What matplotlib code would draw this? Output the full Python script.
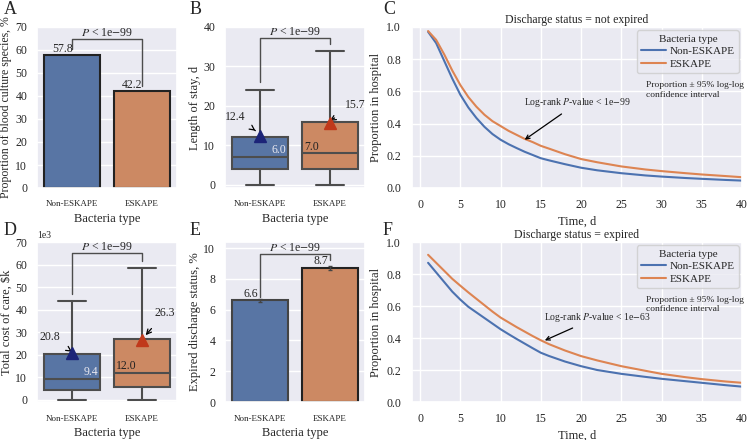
import matplotlib
matplotlib.use("Agg")
import matplotlib.pyplot as plt
import seaborn as sns
import numpy as np

sns.set_theme(style="darkgrid")
plt.rcParams['font.family'] = ['Liberation Serif', 'DejaVu Serif']
plt.rcParams['mathtext.fontset'] = 'stix'

categories = ["Non-ESKAPE", "ESKAPE"]
bar_colors = ["#5875a4", "#cc8963"]
line_colors = ["#4c72b0", "#dd8452"]
mean_colors = ["#1c2478", "#c0391b"]

# Panel A
blood_pct = [57.8, 42.2]
# Panel B (length of stay)
los_stats = [dict(whislo=0, q1=4, med=7, q3=12, whishi=24),
             dict(whislo=0, q1=4, med=8, q3=16, whishi=34)]
los_mean = [12.4, 15.7]
los_med_label = ["6.0", "7.0"]
# Panel D (cost, x1e3)
cost_stats = [dict(whislo=0, q1=4.3, med=9.4, q3=20.3, whishi=44),
              dict(whislo=0, q1=5.6, med=12.0, q3=27.0, whishi=58.5)]
cost_mean = [20.8, 26.3]
cost_med_label = ["9.4", "12.0"]
# Panel E
expired_pct = [6.6, 8.7]
expired_err = [0.1, 0.12]

# Survival curves
t_days = [1, 2, 3, 4, 5, 6, 7, 8, 9, 10, 11, 12, 13, 14, 15, 16, 18, 20, 22, 25, 28, 30, 33, 35, 38, 40]
c_non = [0.97, 0.90, 0.79, 0.68, 0.58, 0.50, 0.435, 0.38, 0.335, 0.30, 0.272, 0.248, 0.225, 0.205, 0.185,
         0.172, 0.148, 0.126, 0.11, 0.092, 0.078, 0.071, 0.062, 0.057, 0.050, 0.046]
c_esk = [0.975, 0.92, 0.83, 0.73, 0.64, 0.565, 0.505, 0.455, 0.415, 0.385, 0.355, 0.33, 0.305, 0.285, 0.262,
         0.245, 0.21, 0.18, 0.16, 0.134, 0.115, 0.105, 0.092, 0.084, 0.074, 0.067]
f_non = [0.87, 0.81, 0.75, 0.69, 0.64, 0.595, 0.56, 0.525, 0.49, 0.455, 0.424, 0.394, 0.365, 0.336, 0.308,
         0.288, 0.253, 0.224, 0.20, 0.176, 0.157, 0.145, 0.13, 0.12, 0.105, 0.096]
f_esk = [0.92, 0.87, 0.82, 0.77, 0.727, 0.685, 0.645, 0.605, 0.565, 0.528, 0.498, 0.468, 0.44, 0.412, 0.386,
         0.362, 0.322, 0.287, 0.26, 0.224, 0.195, 0.176, 0.155, 0.143, 0.128, 0.12]

W, H = 747, 440
fig = plt.figure(figsize=(W / 100, H / 100), dpi=100)


def ax_px(l, t, r, b):
    return fig.add_axes([l / W, 1 - b / H, (r - l) / W, (b - t) / H])


axA = ax_px(37, 27, 177, 188)
axB = ax_px(225, 27, 365, 188)
axC = ax_px(412, 27, 742, 188)
axD = ax_px(37, 242, 177, 402)
axE = ax_px(225, 242, 365, 402)
axF = ax_px(412, 242, 742, 402)

tick_fs = 8.5
lab_fs = 9


def style_cat(ax):
    ax.set_xticks([0, 1])
    ax.set_xticklabels(categories, fontsize=6.5)
    ax.tick_params(axis='y', labelsize=tick_fs, pad=1)
    ax.tick_params(axis='x', pad=3)
    ax.grid(axis='x', visible=False)
    ax.set_xlabel("Bacteria type", fontsize=lab_fs, labelpad=3)
    ax.set_xlim(-0.5, 1.5)


def bracket(ax, y_left, y_top, y_right, text):
    ax.plot([0, 0, 1, 1], [y_left, y_top, y_top, y_right], color="#4d4d4d", lw=1)
    ax.text(0.5, y_top, text, ha='center', va='bottom', fontsize=8.5)


ptxt = r"$P$ < 1e$-$99"

# A
axA.bar([0, 1], blood_pct, width=0.8, color=bar_colors, edgecolor="#222222", linewidth=1.5)
axA.set_ylim(0, 70)
axA.set_yticks(range(0, 71, 10))
style_cat(axA)
axA.set_ylabel("Proportion of blood culture species, %", fontsize=8.5, labelpad=2)
for i, v in enumerate(blood_pct):
    axA.text(i - 0.14, v, f"{v}", ha='center', va='bottom', fontsize=8.5)
bracket(axA, 60.5, 64.7, 44.5, ptxt)


def boxpanel(ax, stats, means, med_labels, label_pos, ann_pos):
    for i, s in enumerate(stats):
        st = dict(s)
        st['label'] = categories[i]
        ax.bxp([st], positions=[i], widths=0.8, showfliers=False, patch_artist=True,
               boxprops=dict(facecolor=bar_colors[i], edgecolor="#4d4d4d", linewidth=1.5),
               medianprops=dict(color="#4d4d4d", linewidth=1.5),
               whiskerprops=dict(color="#4d4d4d", linewidth=1.5),
               capprops=dict(color="#4d4d4d", linewidth=1.5), capwidths=0.4)
        ax.plot(i, means[i], marker='^', color=mean_colors[i], markersize=9, zorder=5, linestyle='none')
        ax.annotate(f"{means[i]}", xy=(i, means[i] + 0.5), xytext=ann_pos[i],
                    ha='center', va='center', fontsize=8.5,
                    arrowprops=dict(arrowstyle='->', color='black', lw=0.9,
                                    shrinkA=6, shrinkB=4))
    ax.text(label_pos[0][0], label_pos[0][1], med_labels[0], ha='right', va='bottom',
            fontsize=8.5, color='#e8e8f0')
    ax.text(label_pos[1][0], label_pos[1][1], med_labels[1], ha='left', va='bottom',
            fontsize=8.5, color='#222222')


# B
boxpanel(axB, los_stats, los_mean, los_med_label,
         [(0.38, 7.2), (0.63, 8.1)], [(-0.35, 17.3), (1.36, 20.3)])
axB.set_ylim(-0.8, 40)
axB.set_yticks(range(0, 41, 10))
style_cat(axB)
axB.set_ylabel("Length of stay, d", fontsize=lab_fs, labelpad=2)
bracket(axB, 26, 37.3, 35.6, ptxt)

# D
boxpanel(axD, cost_stats, cost_mean, cost_med_label,
         [(0.38, 9.8), (0.63, 12.4)], [(-0.32, 27.8), (1.33, 38.5)])
axD.set_ylim(-1, 70)
axD.set_yticks(range(0, 71, 10))
style_cat(axD)
axD.set_ylabel("Total cost of care, $k", fontsize=lab_fs, labelpad=2)
axD.text(0.0, 1.01, "1e3", transform=axD.transAxes, fontsize=7, ha='left', va='bottom')
bracket(axD, 47, 65, 61.5, ptxt)

# E
axE.bar([0, 1], expired_pct, width=0.8, color=bar_colors, edgecolor=["#444444", "#222222"],
        linewidth=1.5, yerr=expired_err, error_kw=dict(ecolor="#444444", elinewidth=1, capsize=1.5))
axE.set_ylim(0, 10.4)
axE.set_yticks(range(0, 11, 2))
style_cat(axE)
axE.set_ylabel("Expired discharge status, %", fontsize=lab_fs, labelpad=2)
for i, v in enumerate(expired_pct):
    axE.text(i - 0.13, v + 0.05, f"{v}", ha='center', va='bottom', fontsize=8.5)
bracket(axE, 6.8, 9.65, 9.2, ptxt)


def surv(ax, non, esk, title, ann_text, ann_xy, ann_txt_xy):
    ax.plot(t_days, non, color=line_colors[0], lw=1.5, label="Non-ESKAPE")
    ax.plot(t_days, esk, color=line_colors[1], lw=1.5, label="ESKAPE")
    ax.set_xlim(-1, 40)
    ax.set_ylim(0, 1.0)
    ax.set_xticks(range(0, 41, 5))
    ax.set_yticks(np.arange(0, 1.01, 0.2))
    ax.tick_params(labelsize=tick_fs, pad=2)
    ax.set_xlabel("Time, d", fontsize=lab_fs, labelpad=3)
    ax.set_ylabel("Proportion in hospital", fontsize=lab_fs, labelpad=3)
    ax.set_title(title, fontsize=8.5, pad=3)
    ax.legend(title="Bacteria type", loc='upper right', fontsize=8, title_fontsize=8,
              frameon=True, borderpad=0.4, handlelength=2.2, handletextpad=0.3,
              labelspacing=0.25, borderaxespad=0.3)
    ax.text(0.71, 0.665, "Proportion ± 95% log-log\nconfidence interval", transform=ax.transAxes,
            fontsize=6.8, ha='left', va='top', linespacing=1.3)
    ax.annotate(ann_text, xy=ann_xy, xytext=ann_txt_xy, ha='center', va='bottom', fontsize=7,
                arrowprops=dict(arrowstyle='->', color='black', lw=0.9, shrinkA=2, shrinkB=0))


surv(axC, c_non, c_esk, "Discharge status = not expired",
     r"Log-rank $P$-value < 1e$-$99", (13.0, 0.30), (19.6, 0.49))
surv(axF, f_non, f_esk, "Discharge status = expired",
     r"Log-rank $P$-value < 1e$-$63", (15.5, 0.385), (22.0, 0.49))

for lbl, x, y in [("A", 4, 9), ("B", 190, 9), ("C", 383, 9),
                  ("D", 4, 230), ("E", 190, 230), ("F", 383, 230)]:
    fig.text(x / W, 1 - y / H, lbl, fontsize=13, ha='left', va='center')

fig.savefig("out.png", dpi=100)
